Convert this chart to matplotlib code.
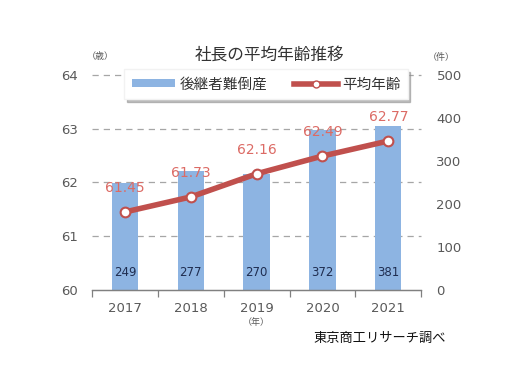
import matplotlib
matplotlib.use("Agg")
import matplotlib.pyplot as plt
from matplotlib.patches import Patch
from matplotlib.lines import Line2D

plt.rcParams['font.family'] = ['DejaVu Sans', 'Noto Sans CJK JP']

years = ["2017", "2018", "2019", "2020", "2021"]
bankruptcies = [249, 277, 270, 372, 381]
avg_age = [61.45, 61.73, 62.16, 62.49, 62.77]
left_ticks = [60, 61, 62, 63, 64]
right_ticks = [0, 100, 200, 300, 400, 500]

bar_color = "#8DB4E2"
line_color = "#C0504D"
label_red = "#DC6B65"
tick_gray = "#595959"

fig = plt.figure(figsize=(5.2, 3.8), dpi=100)
ax = fig.add_axes([0.177, 0.237, 0.633, 0.566])   # bars (right scale)
ax2 = ax.twinx()                                  # line (left scale)

x = list(range(len(years)))

# bars
ax.bar(x, bankruptcies, width=0.4, color=bar_color, zorder=2)
ax.set_ylim(0, 500)
ax.set_xlim(-0.5, len(years) - 0.5)
ax.yaxis.tick_right()
ax.set_yticks(right_ticks)
ax.tick_params(axis='y', length=0, pad=11, labelsize=9.5, labelcolor=tick_gray)
for xi, v in zip(x, bankruptcies):
    ax.text(xi, 40, str(v), ha='center', va='center', fontsize=8.5,
            color="#1F2D50", zorder=3)

# gridlines from the left (age) scale, drawn behind the bars
for v in left_ticks[1:]:
    ax.plot([-0.5, len(years) - 0.5], [v, v], transform=ax2.transData,
            color="#A6A6A6", lw=0.9, ls=(0, (5, 4)), zorder=1, clip_on=False)

# line
ax2.plot(x, avg_age, color=line_color, lw=4, marker='o', ms=7,
         mfc='white', mec=line_color, mew=1.5, zorder=4)
ax2.set_ylim(60, 64)
ax2.yaxis.tick_left()
ax2.set_yticks(left_ticks)
ax2.tick_params(axis='y', length=0, pad=10, labelsize=9.5, labelcolor=tick_gray)
for xi, v in zip(x, avg_age):
    ax2.annotate(f"{v:.2f}", (xi, v), xytext=(0, 17), textcoords='offset points',
                 ha='center', va='center', fontsize=10, color=label_red, zorder=5)

# x axis
ax.set_xticks(x)
ax.set_xticklabels(years)
ax.set_xticks([i - 0.5 for i in range(len(years) + 1)], minor=True)
ax.tick_params(axis='x', which='major', length=0, pad=9, labelsize=9.5,
               labelcolor=tick_gray)
ax.tick_params(axis='x', which='minor', length=5, color="#808080", width=0.9)
for a in (ax, ax2):
    for s in ('top', 'left', 'right'):
        a.spines[s].set_visible(False)
    a.spines['bottom'].set_color("#808080")
    a.spines['bottom'].set_linewidth(0.9)
ax2.tick_params(axis='x', length=0)

# texts
fig.text(270 / 520, 1 - 55 / 380, "社長の平均年齢推移", ha='center', va='center',
         fontsize=12, color="#333333")
fig.text(100 / 520, 1 - 57 / 380, "（歳）", ha='center', va='center',
         fontsize=6.5, color=tick_gray)
fig.text(441 / 520, 1 - 57 / 380, "（件）", ha='center', va='center',
         fontsize=6.5, color=tick_gray)
fig.text(256 / 520, 1 - 322 / 380, "（年）", ha='center', va='center',
         fontsize=6.5, color=tick_gray)
fig.text(446 / 520, 1 - 338 / 380, "東京商工リサーチ調べ", ha='right', va='center',
         fontsize=9.5, color="#111111")

# legend
handles = [Patch(facecolor=bar_color, edgecolor='none'),
           Line2D([0], [0], color=line_color, lw=4, marker='o', ms=5,
                  mfc='white', mec=line_color)]
leg = fig.legend(handles, ["後継者難倒産", "平均年齢"], loc='center',
                 bbox_to_anchor=(266 / 520, 1 - 84 / 380), ncol=2, fontsize=10.5,
                 frameon=True, fancybox=False,
                 shadow={'color': '#8C8C8C', 'alpha': 0.55},
                 handlelength=3.0, handleheight=0.5, columnspacing=1.8,
                 borderpad=0.5, borderaxespad=0, handletextpad=0.3)
leg.get_frame().set_edgecolor('#F2F2F2')
leg.get_frame().set_alpha(1)
for t in leg.get_texts():
    t.set_color("#333333")

fig.savefig("out.png", dpi=100)
